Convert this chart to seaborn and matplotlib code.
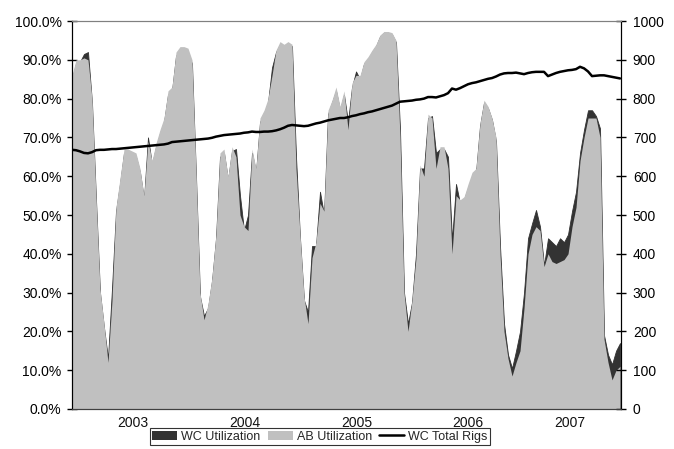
import matplotlib
matplotlib.use('Agg')
import matplotlib.pyplot as plt
from matplotlib.patches import Patch
from matplotlib.lines import Line2D
import seaborn as sns
import pandas as pd
import numpy as np

# utilization (%), roughly two weeks per value
ab_util = [86, 90, 90, 90.5, 90, 80, 55, 31, 22, 12,
           28, 52, 59.5, 67, 67, 66.5, 66, 62, 55, 69,
           64, 68.5, 72, 75, 82, 83, 92, 93.4, 93.4, 93,
           90, 61.6, 30, 23, 27, 34, 45, 66, 67, 60,
           67.6, 65, 50, 47, 46, 67, 62, 75, 77, 80,
           86, 92.5, 94.7, 94, 94.7, 94, 62, 45, 29, 22,
           39, 43, 53, 51, 77, 79.6, 83, 78, 82, 72,
           84, 86, 86, 89.5, 90.8, 92.5, 94, 96.4, 97.3, 97.3,
           97, 95, 70, 30, 20, 28, 39, 62.9, 60, 76,
           75, 62, 67.6, 67.6, 62, 40, 55, 53.9, 54.7, 58,
           61, 62, 73.6, 79.6, 78, 75, 70, 40, 20, 13,
           8.5, 12, 15, 26, 40, 45, 47, 46, 36.7, 40,
           38, 37.5, 38, 38.5, 40, 47, 52, 64, 70, 75,
           75, 75, 70, 18, 12, 7.5, 10, 11]

wc_util = [85, 89, 89.5, 91.5, 92, 79, 54, 30, 21, 13,
           31, 51, 58, 66, 66, 65.5, 65, 61, 54, 70,
           63, 67.5, 71, 74, 81, 82, 91, 92.5, 92.8, 92,
           89, 60, 29, 24, 26, 33, 44, 65, 66, 59,
           66.5, 67, 55, 46, 50, 66, 61, 74, 76, 79,
           88, 92, 94, 93.5, 94, 93.5, 65, 44, 28, 25,
           42, 42, 56, 50, 76, 79, 82, 77, 81, 74,
           83, 87, 85, 89, 90, 92, 93.5, 96, 97, 97,
           96.5, 94.5, 72, 30, 22, 27.5, 40, 62, 62, 75,
           75.5, 66, 67, 67, 65, 43.5, 58, 53, 54, 57,
           60, 61, 73, 79, 77.5, 74.5, 69, 42, 22, 14,
           10.5, 15, 20, 30, 44, 47.8, 51.3, 47, 37, 44,
           43, 42, 44, 43, 45, 51, 56, 66, 72, 77,
           77, 75.5, 72.3, 19, 14, 11.5, 15, 17]

wc_rigs = [668, 667, 664, 660, 659, 662, 667, 668, 668, 669,
           670, 670, 671, 672, 673, 674, 675, 676, 677, 678,
           679, 680, 681, 682, 684, 688, 689, 690, 691, 692,
           693, 694, 695, 696, 697, 699, 702, 704, 706, 707,
           708, 709, 710, 712, 713, 715, 714, 714, 715, 715,
           716, 718, 721, 725, 730, 732, 731, 730, 729, 730,
           733, 736, 738, 741, 744, 746, 748, 750, 750, 752,
           755, 757, 760, 762, 765, 767, 770, 773, 776, 779,
           782, 787, 792, 793, 794, 795, 797, 798, 800, 804,
           804, 803, 806, 809, 814, 826, 823, 827, 832, 837,
           840, 842, 845, 848, 851, 853, 857, 862, 865, 866,
           866, 867, 865, 863, 866, 868, 869, 869, 869, 858,
           862, 866, 869, 871, 873, 874, 876, 882, 878, 870,
           858, 859, 860, 860, 858, 856, 854, 852]

year_labels = ['2003', '2004', '2005', '2006', '2007']
year_pos = [15.25, 43.25, 71.25, 99, 124.5]

df = pd.DataFrame({'period': np.arange(len(ab_util)),
                   'wc': wc_util, 'ab': ab_util, 'rigs': wc_rigs})

sns.set_style('white')
plt.rcParams['font.family'] = ['Liberation Sans', 'DejaVu Sans']

fig = plt.figure(figsize=(6.74, 4.49), dpi=100)
ax = fig.add_axes([0.1068, 0.0891, 0.8146, 0.8641])

# WC behind, AB in front
ax.fill_between(df['period'], df['wc'], color='#333333', lw=0.6, edgecolor='#333333')
ax.fill_between(df['period'], df['ab'], color='#C0C0C0', lw=0)

ax2 = ax.twinx()
sns.lineplot(data=df, x='period', y='rigs', ax=ax2, color='black', lw=1.8)
ax2.set_xlabel('')
ax2.set_ylabel('')

ax.set_xlim(0, len(ab_util) - 0.75)
ax.set_ylim(0, 100)
ax2.set_ylim(0, 1000)
ax.set_yticks(np.arange(0, 101, 10))
ax.set_yticklabels([f'{v:.1f}%' for v in np.arange(0, 101, 10)])
ax2.set_yticks(np.arange(0, 1001, 100))
ax.set_xticks(year_pos)
ax.set_xticklabels(year_labels)
ax.set_xlabel('')

ax.tick_params(axis='x', length=0, labelsize=10, pad=5, colors='#111111')
ax.tick_params(axis='y', direction='inout', length=7, width=1,
               labelsize=10, pad=4, colors='black')
ax2.tick_params(axis='y', direction='inout', length=7, width=1,
                labelsize=10, pad=5, colors='black')

for a in (ax, ax2):
    a.spines['top'].set_color('#808080')
    a.spines['bottom'].set_color('#404040')
    a.spines['left'].set_color('black')
    a.spines['right'].set_color('black')
    a.grid(False)

handles = [Patch(facecolor='#333333', edgecolor='none'),
           Patch(facecolor='#C0C0C0', edgecolor='none'),
           Line2D([], [], color='black', lw=1.8)]
leg = fig.legend(handles, ['WC Utilization', 'AB Utilization', 'WC Total Rigs'],
                 loc='upper center', bbox_to_anchor=(320 / 674, 1 - 428 / 449),
                 ncol=3, fontsize=9, frameon=True, fancybox=False,
                 borderpad=0.2, handletextpad=0.3, columnspacing=0.6,
                 handlelength=2.0, handleheight=0.8, borderaxespad=0)
leg.get_frame().set_edgecolor('black')
leg.get_frame().set_linewidth(0.8)

fig.savefig('out.png', dpi=100)
